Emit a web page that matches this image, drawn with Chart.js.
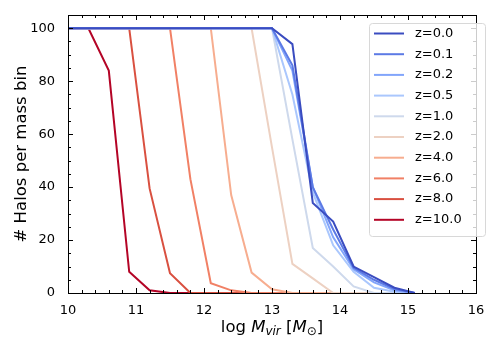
<!DOCTYPE html>
<html>
<head>
<meta charset="utf-8">
<script src="https://cdn.jsdelivr.net/npm/chart.js@4"></script>
<style>
  body { margin: 0; background: #fff; }
  #wrap { width: 500px; height: 350px; }
</style>
</head>
<body>
<div id="wrap"><canvas id="halos" width="500" height="350"></canvas></div>
<script>
// mass bins (log Mvir)
const massBins = [10.0, 10.3, 10.6, 10.9, 11.2, 11.5, 11.8, 12.1, 12.4, 12.7, 13.0, 13.3, 13.6, 13.9, 14.2, 14.5, 14.8, 15.1];

const redshiftLabels = ['z=0.0', 'z=0.1', 'z=0.2', 'z=0.5', 'z=1.0', 'z=2.0', 'z=4.0', 'z=6.0', 'z=8.0', 'z=10.0'];

const z00 = [100, 100, 100, 100, 100, 100, 100, 100, 100, 100, 100, 94, 34, 27, 10, 6, 2, 0];
const z01 = [100, 100, 100, 100, 100, 100, 100, 100, 100, 100, 100, 86, 40, 24, 9.5, 5, 1.5, 0];
const z02 = [100, 100, 100, 100, 100, 100, 100, 100, 100, 100, 100, 84, 40, 21, 9, 4, 1, 0];
const z05 = [100, 100, 100, 100, 100, 100, 100, 100, 100, 100, 100, 75, 38, 18, 8, 2, 0.5, 0];
const z10 = [100, 100, 100, 100, 100, 100, 100, 100, 100, 100, 100, 58, 17, 10, 2.5, 0, 0, 0];
const z20 = [100, 100, 100, 100, 100, 100, 100, 100, 100, 100, 55, 11, 5.5, 0, 0, 0, 0, 0];
const z40 = [100, 100, 100, 100, 100, 100, 100, 100, 37, 7.7, 1.4, 0, 0, 0, 0, 0, 0, 0];
const z60 = [100, 100, 100, 100, 100, 100, 43, 3.7, 1, 0, 0, 0, 0, 0, 0, 0, 0, 0];
const z80 = [100, 100, 100, 100, 39.5, 7.5, 0, 0, 0, 0, 0, 0, 0, 0, 0, 0, 0, 0];
const z100 = [100, 100, 84, 8, 1, 0, 0, 0, 0, 0, 0, 0, 0, 0, 0, 0, 0, 0];

const xTicks = [10, 11, 12, 13, 14, 15, 16];
const yTicks = [0, 20, 40, 60, 80, 100];

// coolwarm colormap samples
const colors = ['#3a4cc0', '#5c7ae5', '#82a5fb', '#aac7fd', '#ced9ec', '#edd1c2', '#f7ad8f', '#f18065', '#d95040', '#b40426'];

const series = [z00, z01, z02, z05, z10, z20, z40, z60, z80, z100];

const datasets = series.map((vals, i) => ({
  label: redshiftLabels[i],
  data: vals.map((v, j) => ({ x: massBins[j], y: v })),
  borderColor: colors[i],
  backgroundColor: colors[i],
  borderWidth: 2,
  pointRadius: 0,
  tension: 0,
  fill: false
}));

const FONT = 'DejaVu Sans, sans-serif';

// inward ticks on all four sides + frame + legend + axis titles
const decorPlugin = {
  id: 'decor',
  afterDraw(chart) {
    const ctx = chart.ctx;
    const a = chart.chartArea;
    const xs = chart.scales.x, ys = chart.scales.y;
    ctx.save();
    ctx.strokeStyle = '#000';
    ctx.lineWidth = 1;

    // ticks
    ctx.beginPath();
    for (let v = 10; v <= 16.001; v += 0.2) {
      const major = Math.abs(v - Math.round(v)) < 1e-6;
      const len = major ? 5 : 3;
      const px = Math.round(xs.getPixelForValue(v)) + 0.5;
      ctx.moveTo(px, a.bottom); ctx.lineTo(px, a.bottom - len);
      ctx.moveTo(px, a.top); ctx.lineTo(px, a.top + len);
    }
    for (let v = 0; v <= 105; v += 5) {
      const major = v % 20 === 0;
      const len = major ? 5 : 3;
      const py = Math.round(ys.getPixelForValue(v)) + 0.5;
      ctx.moveTo(a.left, py); ctx.lineTo(a.left + len, py);
      ctx.moveTo(a.right, py); ctx.lineTo(a.right - len, py);
    }
    ctx.stroke();

    // frame
    ctx.strokeRect(Math.round(a.left) + 0.5, Math.round(a.top) + 0.5,
      Math.round(a.right - a.left), Math.round(a.bottom - a.top));

    // legend
    const lx = 369, ly = 23, lw = 116, lh = 213;
    ctx.fillStyle = 'rgba(255,255,255,0.8)';
    ctx.strokeStyle = '#d8d8d8';
    ctx.beginPath();
    ctx.roundRect(lx + 0.5, ly + 0.5, lw, lh, 3);
    ctx.fill();
    ctx.stroke();
    ctx.font = '13px ' + FONT;
    ctx.textBaseline = 'middle';
    ctx.textAlign = 'left';
    chart.data.datasets.forEach((ds, i) => {
      const yy = 33.5 + i * 20.7;
      ctx.strokeStyle = ds.borderColor;
      ctx.lineWidth = 2;
      ctx.beginPath();
      ctx.moveTo(374, yy); ctx.lineTo(404, yy);
      ctx.stroke();
      ctx.fillStyle = '#000';
      ctx.fillText(ds.label, 415, yy);
    });

    // y axis title
    ctx.fillStyle = '#000';
    ctx.save();
    ctx.translate(22, (a.top + a.bottom) / 2);
    ctx.rotate(-Math.PI / 2);
    ctx.font = '16.5px ' + FONT;
    ctx.textAlign = 'center';
    ctx.textBaseline = 'middle';
    ctx.fillText('# Halos per mass bin', 0, 0);
    ctx.restore();

    // x axis title: log M_vir [M_sun]
    const parts = [
      { t: 'log ', f: '16.5px ' + FONT, dy: 0 },
      { t: 'M', f: 'italic 16.5px ' + FONT, dy: 0 },
      { t: 'vir', f: 'italic 12px ' + FONT, dy: 3 },
      { t: ' [', f: '16.5px ' + FONT, dy: 0 },
      { t: 'M', f: 'italic 16.5px ' + FONT, dy: 0 },
      { t: '⊙', f: '12px ' + FONT, dy: 3 },
      { t: ']', f: '16.5px ' + FONT, dy: 0 }
    ];
    let total = 0;
    parts.forEach(p => { ctx.font = p.f; p.w = ctx.measureText(p.t).width; total += p.w; });
    let cx = (a.left + a.right) / 2 - total / 2;
    ctx.textAlign = 'left';
    ctx.textBaseline = 'alphabetic';
    parts.forEach(p => { ctx.font = p.f; ctx.fillText(p.t, cx, 332 + p.dy); cx += p.w; });
    ctx.restore();
  }
};

new Chart(document.getElementById('halos'), {
  type: 'line',
  data: { datasets },
  plugins: [decorPlugin],
  options: {
    responsive: false,
    animation: false,
    layout: { padding: { top: 15, right: 24, left: 0, bottom: 0 } },
    plugins: { legend: { display: false }, tooltip: { enabled: false } },
    scales: {
      x: {
        type: 'linear',
        min: 10, max: 16,
        afterBuildTicks: s => { s.ticks = xTicks.map(v => ({ value: v })); },
        afterFit: s => { s.height = 57; },
        grid: { display: false },
        border: { display: false },
        ticks: { color: '#000', font: { family: FONT, size: 13 }, padding: 2, maxRotation: 0 }
      },
      y: {
        min: 0, max: 105,
        afterBuildTicks: s => { s.ticks = yTicks.map(v => ({ value: v })); },
        afterFit: s => { s.width = 68; },
        grid: { display: false },
        border: { display: false },
        ticks: { color: '#000', font: { family: FONT, size: 13 }, padding: 5 }
      }
    }
  }
});
</script>
</body>
</html>
